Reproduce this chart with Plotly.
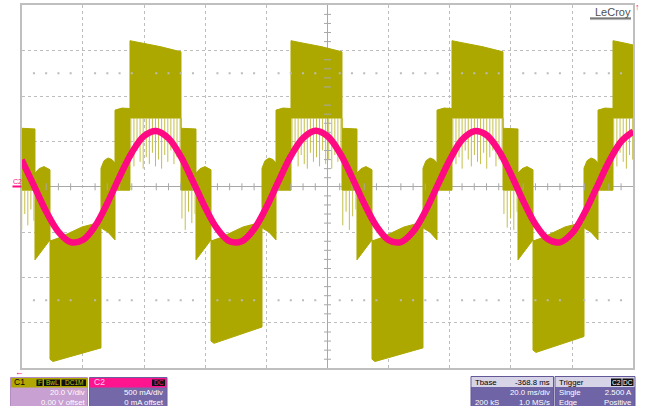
import numpy as np
import plotly.graph_objects as go

W, H = 650, 406

# ---------------- channel data ----------------
# C2: current, mA, read every 4 ms across the 200 ms screen (0 ms = screen centre)
c2_time_ms = list(range(-100, 101, 4))
c2_current_ma = [296, 13, -272, -496, -609, -586, -432, -181, 110, 376, 559, 616, 535, 336, 60,
                 -228, -466, -600, -599, -465, -226, 62, 338, 537, 617, 558, 375, 107, -184,
                 -434, -587, -609, -495, -270, 15, 297, 518, 613, 571, 399, 138, -155, -413,
                 -576, -612, -511, -291, -10, 275, 499, 610]

# C1: switched voltage, V. The trace switches far faster than the screen resolves,
# so it is kept as its upper and lower envelope (ms, V).
c1_top_ms = [-100, -95.66, -95.66, -94.34, -92.71, -90.75, -90.75, -87.81, -80.28, -74.07,
             -74.07, -73.09, -71.78, -70.47, -69.49, -69.49, -67.20, -64.59,
             -64.59, -61.32, -54.78, -47.91, -47.91, -43.01,
             -43.01, -41.69, -40.06, -38.10, -38.10, -35.16, -27.63, -21.42,
             -21.42, -20.44, -19.13, -17.82, -16.84, -16.84, -14.55, -11.94,
             -11.94, -8.67, -2.13, 4.74, 4.74, 9.64,
             9.64, 10.96, 12.59, 14.55, 14.55, 17.49, 25.02, 31.23,
             31.23, 32.21, 33.52, 34.83, 35.81, 35.81, 38.10, 40.71,
             40.71, 43.98, 50.52, 57.39, 57.39, 62.29,
             62.29, 63.61, 65.24, 67.20, 67.20, 70.14, 77.67, 83.88,
             83.88, 84.86, 86.17, 87.48, 88.46, 88.46, 90.75, 93.36,
             93.36, 96.63, 100]
c1_top_v = [25.8, 25.5, 6.0, 8.0, 8.9, 7.5, -23.9, -22.5, -17.7, -15.5,
            8.2, 11.5, 12.7, 12.0, 10.5, 33.8, 34.7, 34.5,
            64.4, 63.5, 61.8, 59.5, 25.8, 25.5,
            6.0, 8.0, 8.9, 7.5, -23.9, -22.5, -17.7, -15.5,
            8.2, 11.5, 12.7, 12.0, 10.5, 33.8, 34.7, 34.5,
            64.4, 63.5, 61.8, 59.5, 25.8, 25.5,
            6.0, 8.0, 8.9, 7.5, -23.9, -22.5, -17.7, -15.5,
            8.2, 11.5, 12.7, 12.0, 10.5, 33.8, 34.7, 34.5,
            64.4, 63.5, 61.8, 59.5, 25.8, 25.5,
            6.0, 8.0, 8.9, 7.5, -23.9, -22.5, -17.7, -15.5,
            8.2, 11.5, 12.7, 12.0, 10.5, 33.8, 34.7, 34.5,
            64.4, 63.5, 62.5]

c1_bottom_ms = [-100, -95.66, -95.66, -90.75, -90.75, -89.77, -74.07,
                -74.07, -71.78, -69.49, -69.49, -64.59, -64.59, -47.91, -47.91, -43.01,
                -43.01, -38.10, -38.10, -37.12, -21.42,
                -21.42, -19.13, -16.84, -16.84, -11.94, -11.94, 4.74, 4.74, 9.64,
                9.64, 14.55, 14.55, 15.53, 31.23,
                31.23, 33.52, 35.81, 35.81, 40.71, 40.71, 57.39, 57.39, 62.29,
                62.29, 67.20, 67.20, 68.18, 83.88,
                83.88, 86.17, 88.46, 88.46, 93.36, 93.36, 100]
c1_bottom_v = [-1.5, -1.5, -32.2, -23.4, -76.0, -77.0, -71.0,
               -18.1, -20.0, -23.4, -1.5, -1.5, 30.3, 30.3, -1.5, -1.5,
               -32.2, -23.4, -68.0, -69.0, -61.8,
               -18.1, -20.0, -23.4, -1.5, -1.5, 30.3, 30.3, -1.5, -1.5,
               -32.2, -23.4, -76.0, -77.0, -71.0,
               -18.1, -20.0, -23.4, -1.5, -1.5, 30.3, 30.3, -1.5, -1.5,
               -32.2, -23.4, -72.0, -73.0, -66.0,
               -18.1, -20.0, -23.4, -1.5, -1.5, 30.3, 30.3]

# C1 short excursions below the envelope: (start ms, end ms, base V, tip V of each spike)
c1_spike_start_ms = [-64.3, -11.6, 41.0, 93.6, -100.0, -47.6, 5.0, 57.7]
c1_spike_end_ms = [-48.2, 4.4, 57.1, 99.8, -96.0, -43.3, 9.3, 62.0]
c1_spike_base_v = [30.3, 30.3, 30.3, 30.3, -1.5, -1.5, -1.5, -1.5]
c1_spike_tip_v = [
    [14, 9, 16, 11, 8, 13, 10, 15, 9, 12, 8, 14, 11, 16, 10, 13, 12],
    [12, 16, 9, 14, 10, 8, 15, 11, 13, 9, 16, 10, 12, 8, 14, 11, 15],
    [15, 10, 13, 8, 16, 12, 9, 14, 11, 10, 15, 8, 13, 16, 9, 12, 14],
    [13, 9, 15, 11, 8, 14, 12],
    [-19, -12, -17, -10, -15],
    [-14, -19, -11, -16, -12],
    [-17, -11, -19, -13, -10],
    [-12, -18, -14, -19, -11],
]

OLIVE = "#ADA800"
PINK = "#FF0A82"
GRID = "#BDBDBD"

fig = go.Figure()

# C1 envelope as one filled outline
fig.add_trace(go.Scatter(
    x=c1_top_ms + c1_bottom_ms[::-1], y=c1_top_v + c1_bottom_v[::-1],
    mode="lines", fill="toself", fillcolor=OLIVE,
    line=dict(color=OLIVE, width=1), hoverinfo="skip", showlegend=False))

# C1 spikes
sx, sy = [], []
for t0, t1, base, tips in zip(c1_spike_start_ms, c1_spike_end_ms, c1_spike_base_v, c1_spike_tip_v):
    for t, tip in zip(np.linspace(t0, t1, len(tips)), tips):
        sx += [t, t, None]
        sy += [base, tip, None]
fig.add_trace(go.Scatter(x=sx, y=sy, mode="lines", line=dict(color="#C4BF4A", width=1),
                         hoverinfo="skip", showlegend=False))

# graticule: minor ticks on the centre cross and dotted rows at +/-2.5 div
minor_t = [t for t in range(-96, 100, 4) if t % 20]
minor_v = [v for v in range(-76, 80, 4) if v % 20]
fig.add_trace(go.Scatter(x=minor_t, y=[0] * len(minor_t), mode="markers",
                         marker=dict(symbol="line-ns", size=5, line=dict(color="#A8A8A8", width=1)),
                         hoverinfo="skip", showlegend=False))
fig.add_trace(go.Scatter(x=[0] * len(minor_v), y=minor_v, mode="markers",
                         marker=dict(symbol="line-ew", size=5, line=dict(color="#A8A8A8", width=1)),
                         hoverinfo="skip", showlegend=False))
fig.add_trace(go.Scatter(x=minor_t * 2, y=[50] * len(minor_t) + [-50] * len(minor_t), mode="markers",
                         marker=dict(symbol="square", size=2, color="#BBBBBB"),
                         hoverinfo="skip", showlegend=False))

# C2 current
fig.add_trace(go.Scatter(x=c2_time_ms, y=c2_current_ma, yaxis="y2", mode="lines",
                         line=dict(color=PINK, width=6.5, shape="spline", smoothing=1.0),
                         hoverinfo="skip", showlegend=False))

X0, X1, Y0, Y1 = 21.7, 633.3, 5.3, 368.3
axis_style = dict(showgrid=True, gridcolor=GRID, griddash="dot", gridwidth=1,
                  zeroline=True, zerolinecolor="#A8A8A8", zerolinewidth=1,
                  showline=True, mirror=True, linecolor="#BFBFBF", linewidth=2,
                  showticklabels=False, ticks="", fixedrange=True)
fig.update_layout(
    width=W, height=H, margin=dict(l=0, r=0, t=0, b=0),
    paper_bgcolor="white", plot_bgcolor="white", showlegend=False,
    xaxis=dict(range=[-100, 100], dtick=20, domain=[X0 / W, X1 / W], **axis_style),
    yaxis=dict(range=[-80, 80], dtick=20, domain=[1 - Y1 / H, 1 - Y0 / H], **axis_style),
    yaxis2=dict(range=[-2000, 2000], overlaying="y", visible=False, fixedrange=True),
    font=dict(family="Liberation Sans, Arial, sans-serif"),
)


def px(x):
    return x / W


def py(y):
    return 1 - y / H


shapes, notes = [], []


def rect(x0, y0, x1, y1, color, line=None):
    shapes.append(dict(type="rect", xref="paper", yref="paper", x0=px(x0), x1=px(x1),
                       y0=py(y1), y1=py(y0), fillcolor=color,
                       line=dict(width=1 if line else 0, color=line or color), layer="above"))


def text(x, y, s, color, size=8, anchor="left", align=None):
    notes.append(dict(xref="paper", yref="paper", x=px(x), y=py(y), text=s,
                      showarrow=False, xanchor=anchor, yanchor="middle", borderpad=0,
                      align=align or ("right" if anchor == "right" else "left"),
                      font=dict(color=color, size=size, family="Liberation Sans, Arial, sans-serif")))


ROW1 = 382.3          # header row
BODY = 397.5          # centre of the two body rows (10 px apart)
ROW3 = 402.5

# channel 1 box
rect(10.5, 377.5, 87.5, 407, "#C8A0D2", "#B48CC4")
rect(11, 378, 87, 387.5, "#B0A800")
text(13, ROW1, "C1", "#000000", 8.5)
for x0, x1, lab in [(36.5, 42.5, "F"), (44, 60, "BwL"), (61.5, 86, "DC1M")]:
    rect(x0, 379.5, x1, 386, "#111111")
    text((x0 + x1) / 2, 382.8, lab, "#C8C000", 6.5, "center")
text(85.5, BODY, "20.0 V/div<br>0.00 V offset", "white", 7.8, "right")

# channel 2 box
rect(89.5, 377.5, 167, 407, "#7468A8", "#6A5E9E")
rect(90, 378, 166.5, 387.5, "#FF1490")
text(92.5, ROW1, "C2", "#FFD6EA", 8.5)
rect(152, 379.5, 165, 386, "#111111")
text(158.5, 382.8, "DC", "#FF1490", 6.5, "center")
text(165, BODY, "500 mA/div<br>0 mA offset", "white", 7.8, "right")

# timebase box
rect(471, 376.5, 553.5, 407, "#6E64A6", "#625898")
rect(471.5, 377, 553, 387, "#D8D4E8")
text(474, ROW1, "Tbase", "#000000", 7.8)
text(551, ROW1, "-368.8 ms", "#000000", 7.8, "right")
text(551, BODY, "20.0 ms/div<br>1.0 MS/s", "white", 7.8, "right")
text(474, ROW3, "200 kS", "white", 7.8)

# trigger box
rect(555, 376.5, 635, 407, "#6E64A6", "#625898")
rect(555.5, 377, 634.5, 387, "#D8D4E8")
text(558, ROW1, "Trigger", "#000000", 7.8)
rect(611, 378.5, 621.5, 386, "#111111")
text(616.2, 382.3, "C2", "white", 6.5, "center")
rect(622.5, 378.5, 633.5, 386, "#111111")
text(628, 382.3, "DC", "white", 6.5, "center")
text(558, BODY, "Single<br>Edge", "white", 7.8)
text(632.5, BODY, "2.500 A<br>Positive", "white", 7.8, "right")

# markers around the screen
text(11.5, 181.5, "C2", PINK, 7)
shapes.append(dict(type="line", xref="paper", yref="paper", x0=px(12.5), x1=px(21.5),
                   y0=py(186.5), y1=py(186.5), line=dict(color=PINK, width=2)))
text(19.5, 371.5, "←", PINK, 9, "center")
text(637.5, 7, "↑", PINK, 9, "center")

# logo
text(631.5, 12, "LeCroy", "#505050", 11, "right")
shapes.append(dict(type="line", xref="paper", yref="paper", x0=px(590), x1=px(631),
                   y0=py(18.2), y1=py(18.2), line=dict(color="#505050", width=1.2)))
shapes.append(dict(type="line", xref="paper", yref="paper", x0=px(590), x1=px(631),
                   y0=py(19.6), y1=py(19.6), line=dict(color="#B0B0B0", width=1)))

fig.update_layout(shapes=shapes, annotations=notes)
fig.write_html("out.html")
